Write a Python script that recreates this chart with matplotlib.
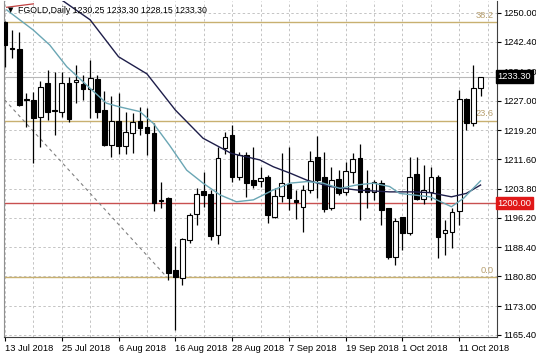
import matplotlib
matplotlib.use("Agg")
import matplotlib.pyplot as plt
import numpy as np

# ---- data ----
dates = ["13 Jul 2018", "25 Jul 2018", "6 Aug 2018", "16 Aug 2018", "28 Aug 2018",
         "7 Sep 2018", "19 Sep 2018", "1 Oct 2018", "11 Oct 2018"]
date_idx = [0, 8, 16, 24, 32, 40, 48, 56, 64]

opens = [1247.7, 1240.9, 1240.5, 1227.5, 1227.1, 1222.6, 1231.5, 1224.6, 1224.1, 1231.5,
         1231.8, 1231.3, 1230.0, 1232.7, 1224.5, 1215.3, 1221.7, 1215.1, 1218.5, 1221.7,
         1220.1, 1218.5, 1200.9, 1201.5, 1182.5, 1180.5, 1190.4, 1197.2, 1203.3, 1202.4,
         1191.7, 1214.4, 1218.0, 1207.0, 1212.7, 1206.1, 1205.9, 1207.0, 1196.3, 1201.9,
         1205.1, 1200.8, 1199.0, 1203.5, 1212.2, 1206.8, 1198.7, 1206.3, 1203.0, 1208.3,
         1211.8, 1203.9, 1203.0, 1205.3, 1198.7, 1186.0, 1196.3, 1192.1, 1207.7, 1201.0,
         1203.0, 1206.8, 1192.1, 1192.5, 1198.1, 1227.3, 1221.0, 1230.25]
highs = [1248.0, 1245.5, 1245.1, 1229.0, 1229.3, 1232.0, 1235.0, 1234.6, 1234.6, 1233.3,
         1236.3, 1233.7, 1237.7, 1233.7, 1229.6, 1228.2, 1228.9, 1224.1, 1223.6, 1225.4,
         1225.0, 1221.2, 1205.7, 1201.6, 1188.8, 1191.0, 1197.4, 1203.9, 1208.3, 1203.5,
         1214.9, 1218.8, 1220.6, 1213.6, 1213.6, 1214.9, 1209.6, 1207.4, 1203.9, 1213.1,
         1214.9, 1203.5, 1204.8, 1213.8, 1217.7, 1213.6, 1209.6, 1208.7, 1210.9, 1213.1,
         1215.6, 1208.7, 1206.1, 1206.1, 1198.7, 1196.2, 1196.3, 1212.1, 1212.1, 1210.0,
         1209.6, 1207.4, 1195.6, 1198.7, 1229.8, 1227.6, 1236.3, 1233.30]
lows = [1235.9, 1238.1, 1225.5, 1220.1, 1210.5, 1214.9, 1221.9, 1218.0, 1222.8, 1221.4,
        1226.3, 1227.1, 1222.3, 1222.3, 1215.0, 1212.2, 1213.0, 1213.0, 1213.3, 1217.9,
        1212.7, 1198.1, 1198.7, 1179.9, 1166.7, 1178.5, 1189.5, 1194.3, 1199.1, 1190.4,
        1189.3, 1213.0, 1205.7, 1206.0, 1201.7, 1203.9, 1204.4, 1194.7, 1196.1, 1200.4,
        1198.2, 1195.9, 1192.5, 1202.6, 1201.3, 1197.8, 1198.2, 1202.2, 1202.2, 1205.3,
        1195.6, 1198.7, 1200.9, 1194.3, 1185.3, 1183.8, 1187.7, 1191.7, 1200.9, 1199.8,
        1200.9, 1185.5, 1186.4, 1188.2, 1194.3, 1219.3, 1220.3, 1228.15]
closes = [1241.5, 1240.6, 1225.8, 1227.2, 1222.3, 1230.5, 1224.1, 1224.3, 1231.5, 1222.1,
          1232.4, 1230.0, 1232.8, 1224.1, 1215.3, 1221.7, 1215.1, 1218.6, 1221.4, 1219.7,
          1218.5, 1200.2, 1200.6, 1181.6, 1180.7, 1190.6, 1196.9, 1202.4, 1202.1, 1191.4,
          1211.8, 1217.5, 1207.0, 1212.7, 1205.4, 1204.8, 1206.7, 1196.9, 1201.9, 1205.3,
          1201.3, 1200.4, 1203.5, 1211.2, 1206.1, 1198.4, 1206.1, 1202.8, 1208.6, 1211.6,
          1203.0, 1203.0, 1205.5, 1198.2, 1186.0, 1195.3, 1192.3, 1207.0, 1201.1, 1203.5,
          1206.8, 1191.2, 1193.0, 1197.8, 1227.3, 1221.2, 1230.2, 1233.30]

slow_ma_x = [7.5, 8.0, 12.0, 16.0, 20.0, 24.0, 27.9, 31.9, 35.9, 37.8, 40.2, 42.5, 45.8,
             49.5, 54.2, 57.5, 59.9, 62.9, 65.0, 67.0]
slow_ma_y = [1255.0, 1253.4, 1248.2, 1238.5, 1234.0, 1224.5, 1217.1, 1213.1, 1211.4, 1209.6,
             1207.9, 1206.1, 1204.4, 1203.5, 1203.0, 1203.0, 1202.8, 1201.7, 1202.6, 1204.8]
fast_ma_x = [0.24, 4.0, 6.3, 8.7, 12.0, 14.3, 16.0, 19.0, 20.9, 23.2, 25.6, 27.9, 30.3,
             32.6, 35.0, 37.8, 40.2, 42.5, 44.8, 47.2, 49.5, 51.9, 54.2, 55.6, 59.9, 62.9,
             64.6, 67.0]
fast_ma_y = [1250.8, 1245.5, 1241.6, 1235.9, 1230.2, 1226.3, 1225.4, 1224.1, 1221.0, 1215.2,
             1208.7, 1205.3, 1202.2, 1200.4, 1200.9, 1203.5, 1205.3, 1205.7, 1205.3, 1203.9,
             1204.8, 1205.3, 1204.4, 1202.6, 1201.7, 1199.1, 1201.3, 1205.9]

fib_levels = [1247.6, 1221.7, 1180.6]
fib_labels = ["38.2", "23.6", "0.0"]
fib_trend_x = [-0.7, 22.8]
fib_trend_y = [1228.5, 1180.6]

yticks = [1250.00, 1242.40, 1234.60, 1227.00, 1219.20, 1211.60, 1203.80, 1196.20,
          1188.40, 1180.80, 1173.00, 1165.40]
support_level = 1200.00
last_price = 1233.30
title = "FGOLD,Daily 1230.25 1233.30 1228.15 1233.30"

# ---- figure ----
W, H = 536, 358
fig = plt.figure(figsize=(W / 100, H / 100), dpi=100)
fig.patch.set_facecolor("white")
ax = fig.add_axes([3.5 / W, (H - 337) / H, (496.5 - 3.5) / W, (337 - 1) / H])
YMIN, YMAX = 1164.87, 1253.15
ax.set_xlim(-0.21, 69.25)
ax.set_ylim(YMIN, YMAX)
FONT = "Liberation Sans"
fs = 6.7

# grid
grid_kw = dict(color="#c4c4c4", lw=0.7, ls=(0, (2.5, 2.5)), zorder=0)
for v in yticks:
    ax.axhline(v, **grid_kw)
for gx in range(0, 70, 4):
    ax.axvline(gx, **grid_kw)

# horizontal objects
ax.axhline(last_price, color="#b8b8b8", lw=0.8, zorder=1)
for lvl in fib_levels:
    ax.axhline(lvl, color="#c8b070", lw=1.0, zorder=1)
ax.axhline(support_level, color="#c85050", lw=1.0, zorder=1)
ax.plot(fib_trend_x, fib_trend_y, color="#808080", lw=0.8, ls=(0, (3, 3)), zorder=1)
ax.plot([0.24, 4.0], [1251.5, 1252.4], color="#c04040", lw=0.9, zorder=1)

for lvl, lab in zip(fib_levels, fib_labels):
    ax.text(68.9, lvl + 0.6, lab, ha="right", va="bottom", fontsize=fs,
            color="#b8a070", family=FONT, zorder=2)

# candles
idx = np.arange(len(opens))
o = np.array(opens); c = np.array(closes); h = np.array(highs); l = np.array(lows)
ax.vlines(idx, l, h, color="black", lw=0.9, zorder=3)
bottom = np.minimum(o, c)
height = np.maximum(np.abs(c - o), 0.25)
up = c >= o
ax.bar(idx[up], height[up], bottom=bottom[up], width=0.66, color="white",
       edgecolor="black", lw=0.8, zorder=4)
ax.bar(idx[~up], height[~up], bottom=bottom[~up], width=0.66, color="black",
       edgecolor="black", lw=0.8, zorder=4)

# moving averages
ax.plot(slow_ma_x, slow_ma_y, color="#1e1e4a", lw=1.0, zorder=5)
ax.plot(fast_ma_x, fast_ma_y, color="#6aa6b4", lw=1.0, zorder=5)

# axes styling
ax.spines["top"].set_visible(False)
ax.spines["left"].set_color("#909090")
ax.spines["bottom"].set_color("#404040")
ax.spines["right"].set_color("#404040")
ax.yaxis.tick_right()
ax.set_yticks(yticks)
ax.set_yticklabels([f"{v:.2f}" for v in yticks], fontsize=fs, family=FONT)
ax.tick_params(axis="y", length=3, width=0.8, pad=2, colors="black")
ax.set_xticks(date_idx)
ax.set_xticklabels(dates, fontsize=fs, family=FONT, ha="left")
ax.tick_params(axis="x", length=3, width=0.8, pad=2)

# price boxes (drawn over the axis labels, as in the terminal)
ax.text(1.0015, (last_price - YMIN) / (YMAX - YMIN), f"{last_price:.2f}",
        transform=ax.transAxes, ha="left", va="center", fontsize=fs, family=FONT,
        color="white", zorder=10,
        bbox=dict(boxstyle="square,pad=0.18", fc="black", ec="black"))
ax.text(1.0015, (support_level - YMIN) / (YMAX - YMIN), f"{support_level:.2f}",
        transform=ax.transAxes, ha="left", va="center", fontsize=fs, family=FONT,
        color="white", zorder=10,
        bbox=dict(boxstyle="square,pad=0.18", fc="#e01818", ec="#e01818"))

# title
fig.text(8 / W, 1 - 10.5 / H, "\u25BC", fontsize=5, color="black", va="center", ha="left",
         family="DejaVu Sans")
fig.text(18 / W, 1 - 10.5 / H, title, fontsize=6.3, color="black", va="center",
         ha="left", family=FONT)

fig.savefig("out.png", dpi=100, facecolor="white")
